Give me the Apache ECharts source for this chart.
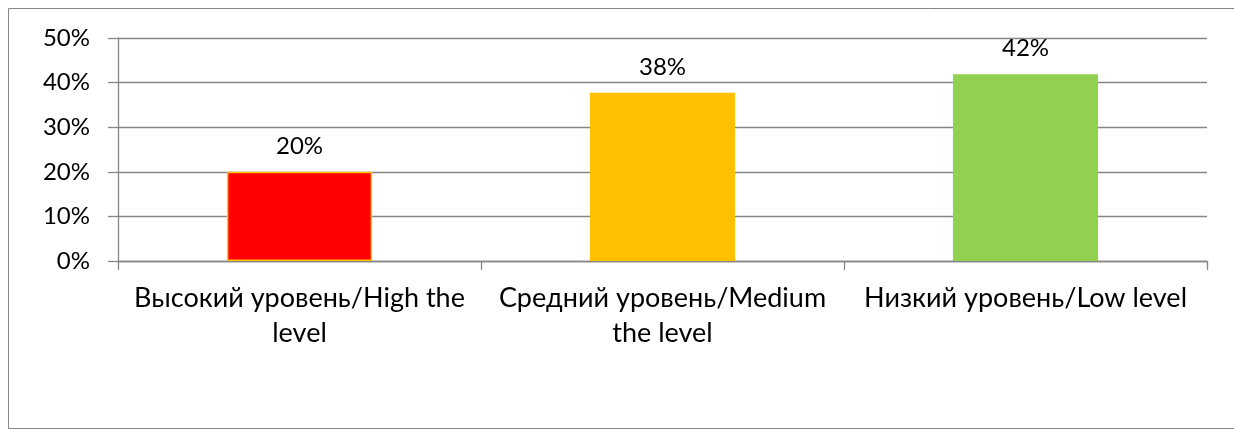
<!DOCTYPE html>
<html><head><meta charset="utf-8">
<script src="https://cdn.jsdelivr.net/npm/echarts@6/dist/echarts.min.js"></script>
<style>html,body{margin:0;padding:0;background:#fff}#c{width:1234px;height:430px}</style>
</head><body><div id="c"></div>
<script>
const categories = ['Высокий уровень/High the level', 'Средний уровень/Medium the level', 'Низкий уровень/Low level'];
const categoryLabels = ['Высокий уровень/High the\nlevel', 'Средний уровень/Medium\nthe level', 'Низкий уровень/Low level'];
const values = [20.0, 37.7, 41.9];
const barColors = ['#FF0000', '#FFC000', '#92D050'];
const barBorders = ['#FFC000', '#FFC000', '#92D050'];
const yTicks = [0, 10, 20, 30, 40, 50];

const FONT = 'Lato';
const chart = echarts.init(document.getElementById('c'), null, {renderer: 'canvas'});
chart.setOption({
  backgroundColor: '#fff',
  animation: false,
  textStyle: {fontFamily: FONT},
  graphic: [{type: 'rect', shape: {x: 8.5, y: 8.5, width: 1240, height: 420}, style: {fill: 'none', stroke: '#868686', lineWidth: 1}, silent: true}],
  grid: {left: 118, right: 27, top: 38, bottom: 169, containLabel: false},
  xAxis: {
    type: 'category', data: categories,
    axisLine: {lineStyle: {color: '#868686', width: 1.3}},
    axisTick: {show: true, length: 9, lineStyle: {color: '#868686', width: 1.3}},
    axisLabel: {color: '#000', fontFamily: FONT, fontSize: 27, lineHeight: 35, margin: 20, interval: 0,
      formatter: (v, i) => categoryLabels[i]}
  },
  yAxis: {
    type: 'value', min: yTicks[0], max: yTicks[yTicks.length - 1], interval: 10,
    axisLine: {show: true, lineStyle: {color: '#868686', width: 1.3}},
    axisTick: {show: true, length: 10, lineStyle: {color: '#868686', width: 1.3}},
    splitLine: {lineStyle: {color: '#868686', width: 1.3}},
    axisLabel: {color: '#000', fontFamily: FONT, fontSize: 24, margin: 28, formatter: v => v + '%'}
  },
  series: [{
    type: 'bar', barWidth: '40%',
    data: values.map((v, i) => ({value: v, itemStyle: {color: barColors[i], borderColor: barBorders[i], borderWidth: i === 0 ? 1.5 : 0}})),
    label: {show: true, position: 'top', distance: 14, color: '#000', fontFamily: FONT, fontSize: 24, formatter: p => Math.round(p.value) + '%'}
  }]
});
</script></body></html>
